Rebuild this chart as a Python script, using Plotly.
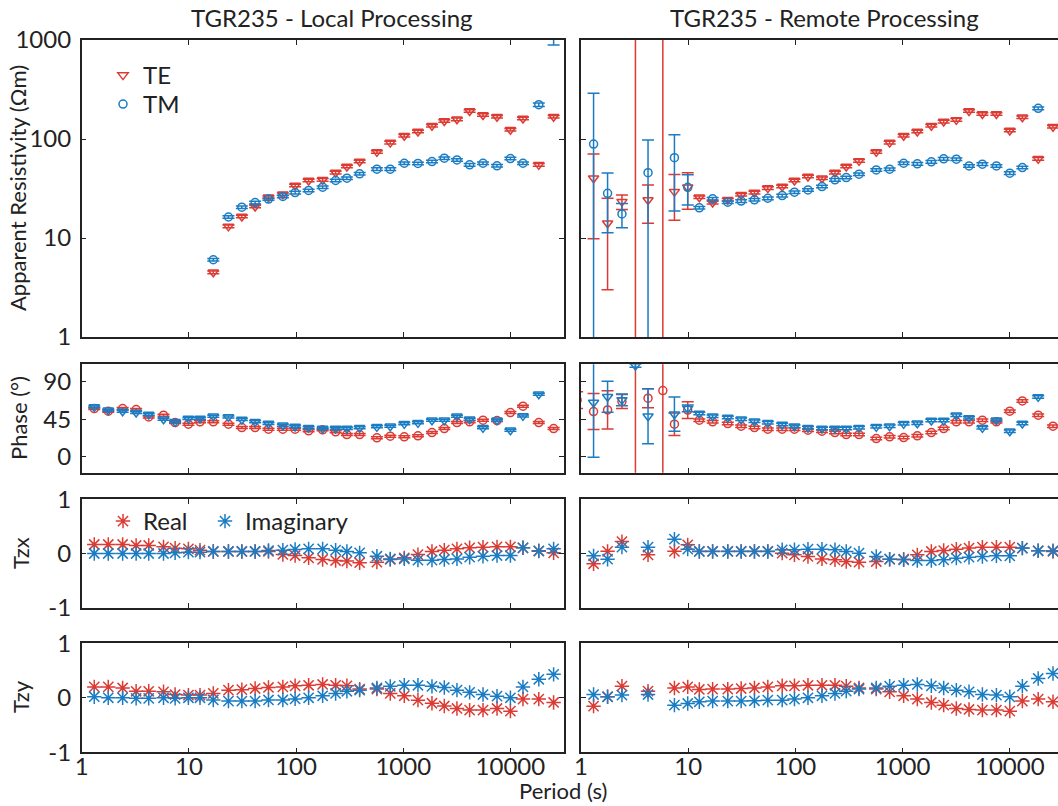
import plotly.graph_objects as go

# ---------------------------------------------------------------- data
# Periods (s); the first one lies just left of the 1 s axis limit.
periods = [0.92, 1.31, 1.77, 2.41, 3.22, 4.22, 5.8, 7.44, 9.9, 12.7, 16.9, 23.4,
           31.2, 41.5, 55.3, 75.3, 98, 131, 177, 234, 298, 392, 568, 757, 1023,
           1372, 1854, 2417, 3171, 4165, 5550, 7500, 10000, 13100, 18400, 25300]

N = None

# Local processing - apparent resistivity (ohm m) and errors
rho_te_local = [N, N, N, N, N, N, N, N, N, N,
                4.5, 13.1, 16.5, 20.8, 25.8, 27.7, 33.9, 38.1, 38.7, 45.8, 52.7, 59.2,
                74.1, 92, 108, 119, 136, 152, 158, 192, 175, 168, 124, 161, 54.8, 168]
rho_te_local_err = [N, N, N, N, N, N, N, N, N, N,
                    0.15, 0.4, 0.5, 0.6, 0.8, 0.8, 1.0, 1.1, 1.2, 1.4, 1.6, 1.8,
                    2.2, 2.8, 3.2, 3.6, 4.1, 4.6, 4.7, 5.8, 5.3, 5.0, 3.7, 4.8, 1.6, 5.0]
rho_tm_local = [N, N, N, N, N, N, N, N, N, N,
                6.03, 16.3, 20.5, 22.8, 24.7, 26.3, 28.8, 30.2, 32.6, 38.1, 40.2, 44.5,
                49.6, 49.6, 56.9, 56.6, 59.2, 64, 61.5, 54.8, 56.9, 53.6, 63.5, 56.9, 222, 1300]
rho_tm_local_err = [N, N, N, N, N, N, N, N, N, N,
                    0.18, 0.5, 0.6, 0.7, 0.7, 0.8, 0.9, 0.9, 1.0, 1.1, 1.2, 1.3,
                    1.5, 1.5, 1.7, 1.7, 1.8, 1.9, 1.8, 1.6, 1.7, 1.6, 1.9, 1.7, 9.0, 410]

# Local processing - phase (degrees)
phase_te_local = [N, 57.8, 54.6, 57.8, 56.6, 47.8, 49.8, 41, 39, 41.8, 41.8, 39, 35, 35,
                  33, 33, 33, 31, 32.2, 29.8, 26.6, 26.6, 22.6, 24.6, 23.8, 25, 29, 33.8,
                  41, 41.8, 43.8, 43.4, 53, 60.6, 41, 33.8]
phase_tm_local = [N, 59.8, 55.8, 54.6, 53, 50.6, 45, 41.8, 45.8, 45.8, 48.6, 47.8, 44.6,
                  41.8, 39.8, 37.8, 36.2, 34.6, 33.8, 33.8, 33.8, 34.6, 35.8, 36.6, 39.4,
                  40.6, 43.8, 43.8, 48.6, 45, 34.6, 43.8, 31.8, 49, 75, N]
phase_local_err = 1.2

# Local processing - tipper
tzx_re_local = [N, 0.166, 0.166, 0.166, 0.148, 0.148, 0.123, 0.098, 0.086, 0.062, 0.037,
                0.037, 0.037, 0.037, 0.037, -0.018, -0.037, -0.08, -0.11, -0.13, -0.14,
                -0.17, -0.16, -0.11, -0.08, -0.02, 0.037, 0.062, 0.086, 0.105, 0.117,
                0.123, 0.123, 0.105, 0.05, 0.012]
tzx_im_local = [N, 0.0, 0.0, 0.0, 0.0, 0.0, 0.0, 0.012, 0.025, 0.025, 0.037, 0.037, 0.037,
                0.037, 0.055, 0.062, 0.074, 0.086, 0.086, 0.062, 0.037, 0.012, -0.05, -0.1,
                -0.1, -0.123, -0.123, -0.11, -0.1, -0.068, -0.05, -0.037, -0.037, 0.105,
                0.043, 0.086]
tzy_re_local = [N, 0.20, 0.20, 0.18, 0.12, 0.12, 0.11, 0.06, 0.05, 0.05, 0.08, 0.14, 0.15,
                0.17, 0.19, 0.20, 0.22, 0.23, 0.245, 0.23, 0.22, 0.16, 0.16, 0.08, 0.037,
                -0.043, -0.10, -0.15, -0.196, -0.226, -0.226, -0.196, -0.245, -0.024,
                -0.024, -0.086]
tzy_im_local = [N, 0.02, 0.0, 0.0, -0.01, -0.01, 0.0, -0.01, 0.0, 0.0, -0.04, -0.06, -0.06,
                -0.06, -0.04, -0.04, -0.02, 0.0, 0.037, 0.08, 0.12, 0.14, 0.18, 0.21, 0.23,
                0.23, 0.21, 0.19, 0.14, 0.10, 0.06, 0.03, 0.0, 0.20, 0.34, 0.43]

# Remote processing - apparent resistivity (ohm m) and errors
rho_te_remote = [N, 40.1, 14.1, 23.3, 5000, 24.2, 5000, 29.4, 32.5, 25.8, 22.8, 24.3,
                 27.3, 28.8, 31.9, 33.1, 38.1, 41.8, 40.2, 45.8, 52.7, 60.1, 74.1, 92,
                 108, 119, 136, 150, 156, 192, 179, 179, 122, 166, 63, 133]
rho_te_remote_err = [N, 30.3, 11.1, 3.9, 4999.99, 10.1, 4999.99, 14.3, 13.0, 0.8, 0.7,
                     0.7, 0.8, 0.9, 1.0, 1.0, 1.1, 1.3, 1.2, 1.4, 1.6, 1.8, 2.2, 2.8, 3.2,
                     3.6, 4.1, 4.5, 4.7, 5.8, 5.4, 5.4, 3.7, 5.0, 1.9, 4.0]
rho_tm_remote = [N, 88.9, 28.3, 17.5, N, 45.7, N, 64.7, 32.5, 20.2, 24.9, 23, 23.6, 24.3,
                 25.2, 26.8, 29, 30.6, 33.1, 38.7, 40.8, 44.1, 48.7, 49.5, 56.9, 56.1,
                 58.8, 63, 62.5, 53.5, 55.7, 53.5, 45.2, 51.5, 204, N]
rho_tm_remote_err = [N, 201, 17, 4.8, N, 52, N, 46, 11, 0.6, 0.7, 0.7, 0.7, 0.7, 0.8,
                     0.8, 0.9, 0.9, 1.0, 1.2, 1.2, 1.3, 1.5, 1.5, 1.7, 1.7, 1.8, 1.9, 1.9,
                     1.6, 1.7, 1.6, 1.4, 1.5, 6.0, N]

# Remote processing - phase (degrees) and errors
phase_te_remote = [68, 54.2, 56.2, 66.2, 160, 70.2, 79.4, 39, 56, 43.8, 41.8, 39.8, 36.6,
                   35, 33, 33, 33, 31.8, 30.6, 29, 26.6, 26.6, 21.8, 23.8, 23, 25, 29,
                   33.8, 41.8, 41.8, 43.8, 41.8, 54.6, 67, 49.8, 36.6]
phase_te_remote_err = [10, 21.6, 23, 8.4, 300, 11.5, 200, 13.6, 10, 1.5, 1.5, 1.5, 1.5,
                       1.5, 1.5, 1.5, 1.5, 1.5, 1.5, 1.5, 1.5, 1.5, 1.5, 1.5, 1.5, 1.5,
                       1.5, 1.5, 1.5, 1.5, 1.5, 1.5, 1.5, 1.5, 1.5, 1.5]
phase_tm_remote = [N, 65, 72, 68.2, 109.4, 48.5, N, 51, 58, 51.8, 48.6, 47, 45, 42.6,
                   40.6, 38.6, 36.6, 34.6, 33.8, 33.8, 33.8, 34.6, 35.8, 36.6, 39.4, 40.2,
                   43.4, 43.4, 49.8, 46.6, 34.6, 43.8, 30.6, 39.8, 71.8, N]
phase_tm_remote_err = [N, 65.7, 18.5, 7, 2, 33, N, 20.6, 4, 1.5, 1.5, 1.5, 1.5, 1.5, 1.5,
                       1.5, 1.5, 1.5, 1.5, 1.5, 1.5, 1.5, 1.5, 1.5, 1.5, 1.5, 1.5, 1.5,
                       1.5, 1.5, 1.5, 1.5, 1.5, 1.5, 1.5, N]

# Remote processing - tipper
tzx_re_remote = [N, -0.19, 0.04, 0.22, N, -0.025, N, 0.04, 0.16, 0.04, 0.04, 0.04, 0.04,
                 0.04, 0.04, 0.006, -0.025, -0.055, -0.1, -0.117, -0.148, -0.16, -0.148,
                 -0.105, -0.105, -0.025, 0.037, 0.055, 0.08, 0.1, 0.117, 0.117, 0.117,
                 0.1, 0.05, 0.037]
tzx_im_remote = [N, -0.043, -0.105, 0.117, N, 0.117, N, 0.265, 0.08, 0.037, 0.037, 0.037,
                 0.037, 0.037, 0.037, 0.068, 0.068, 0.08, 0.08, 0.068, 0.037, 0.006,
                 -0.055, -0.105, -0.117, -0.13, -0.13, -0.117, -0.086, -0.068, -0.055,
                 -0.043, -0.043, 0.1, 0.05, 0.05]
tzy_re_remote = [N, -0.153, 0.02, 0.214, N, 0.122, N, 0.18, 0.2, 0.153, 0.16, 0.16, 0.17,
                 0.18, 0.2, 0.22, 0.22, 0.23, 0.23, 0.23, 0.214, 0.18, 0.16, 0.11, 0.037,
                 -0.024, -0.086, -0.135, -0.196, -0.214, -0.226, -0.226, -0.245, -0.06,
                 -0.024, -0.073]
tzy_im_remote = [N, 0.06, 0.018, 0.05, N, 0.06, N, -0.135, -0.104, -0.073, -0.06, -0.06,
                 -0.06, -0.055, -0.043, -0.043, -0.024, 0.0, 0.037, 0.08, 0.122, 0.16,
                 0.18, 0.214, 0.23, 0.245, 0.22, 0.18, 0.14, 0.11, 0.06, 0.05, 0.018,
                 0.214, 0.355, 0.447]

x_ticks = [1, 10, 100, 1000, 10000]
rho_ticks = [1, 10, 100, 1000]
phase_ticks = [0, 45, 90]
tipper_ticks = [-1, 0, 1]

# ---------------------------------------------------------------- style
RED = "#dc3b33"
BLUE = "#1a7cc2"
INK = "#222222"
FONT = "Lato"
W, H = 1058, 806


def px_x(v):
    return v / W


def px_y(v):
    return 1 - v / H


col_domains = [[px_x(81.7), px_x(564)], [px_x(581), 1.0]]
row_domains = [[px_y(337), px_y(40)], [px_y(472.7), px_y(364.3)],
               [px_y(607.7), px_y(499.3)], [px_y(752.3), px_y(643.3)]]

fig = go.Figure()


def axis_id(row, col):
    k = row * 2 + col + 1
    return ("x" if k == 1 else f"x{k}"), ("y" if k == 1 else f"y{k}")


def add(row, col, y, color, symbol, size, error_y=None, name=None, legend=None):
    xa, ya = axis_id(row, col)
    fig.add_trace(go.Scatter(
        x=periods, y=y, mode="markers", xaxis=xa, yaxis=ya,
        name=name or "", showlegend=legend is not None,
        legend=legend if legend else "legend",
        marker=dict(symbol=symbol, size=size, color=color,
                    line=dict(color=color, width=1.5)),
        error_y=error_y, hoverinfo="skip"))


def bars(values, color):
    return dict(type="data", array=values, symmetric=True, color=color,
                thickness=1.5, width=6)


def const_bars(value, color):
    return dict(type="constant", value=value, color=color, thickness=1.5, width=6)


STAR = 12

# Local processing column
add(0, 0, rho_te_local, RED, "triangle-down-open", 9, bars(rho_te_local_err, RED),
    name="TE", legend="legend")
add(0, 0, rho_tm_local, BLUE, "circle-open", 8, bars(rho_tm_local_err, BLUE),
    name="TM", legend="legend3")
add(1, 0, phase_te_local, RED, "circle-open", 8, const_bars(phase_local_err, RED))
add(1, 0, phase_tm_local, BLUE, "triangle-down-open", 9, const_bars(phase_local_err, BLUE))
add(2, 0, tzx_re_local, RED, "asterisk-open", STAR, name="Real", legend="legend2")
add(2, 0, tzx_im_local, BLUE, "asterisk-open", STAR, name="Imaginary", legend="legend4")
add(3, 0, tzy_re_local, RED, "asterisk-open", STAR)
add(3, 0, tzy_im_local, BLUE, "asterisk-open", STAR)

# Remote processing column
add(0, 1, rho_te_remote, RED, "triangle-down-open", 9, bars(rho_te_remote_err, RED))
add(0, 1, rho_tm_remote, BLUE, "circle-open", 8, bars(rho_tm_remote_err, BLUE))
add(1, 1, phase_te_remote, RED, "circle-open", 8, bars(phase_te_remote_err, RED))
add(1, 1, phase_tm_remote, BLUE, "triangle-down-open", 9, bars(phase_tm_remote_err, BLUE))
add(2, 1, tzx_re_remote, RED, "asterisk-open", STAR)
add(2, 1, tzx_im_remote, BLUE, "asterisk-open", STAR)
add(3, 1, tzy_re_remote, RED, "asterisk-open", STAR)
add(3, 1, tzy_im_remote, BLUE, "asterisk-open", STAR)

# ---------------------------------------------------------------- axes
tick_font = dict(family=FONT, size=24, color=INK)
base = dict(showline=True, linecolor=INK, linewidth=1.5, ticks="inside", ticklen=5,
            tickwidth=1.2, tickcolor=INK, showgrid=False, zeroline=False,
            tickfont=tick_font, automargin=False)

x_ranges = [[0, 4.5], [0, (W - 581) / 107.2]]
y_specs = [
    dict(type="log", range=[0, 3], tickvals=rho_ticks,
         ticktext=[str(v) for v in rho_ticks]),
    dict(type="linear", range=[-19.2, 110.9], tickvals=phase_ticks,
         ticktext=[str(v) for v in phase_ticks]),
    dict(type="linear", range=[-1, 1], tickvals=tipper_ticks,
         ticktext=[str(v) for v in tipper_ticks]),
    dict(type="linear", range=[-1, 1], tickvals=tipper_ticks,
         ticktext=[str(v) for v in tipper_ticks]),
]

layout_axes = {}
for row in range(4):
    for col in range(2):
        k = row * 2 + col + 1
        xa, ya = axis_id(row, col)
        layout_axes["xaxis" if k == 1 else f"xaxis{k}"] = dict(
            base, type="log", range=x_ranges[col], domain=col_domains[col],
            anchor=ya, mirror="ticks", tickvals=x_ticks,
            ticktext=[str(v) for v in x_ticks], showticklabels=row == 3,
            ticklabelstandoff=-8)
        layout_axes["yaxis" if k == 1 else f"yaxis{k}"] = dict(
            base, domain=row_domains[row], anchor=xa,
            mirror="ticks" if col == 0 else False,
            showticklabels=col == 0, ticklabelstandoff=4, **y_specs[row])

fig.update_layout(**layout_axes)

# ---------------------------------------------------------------- text
def label(text, x, y, size, angle=0):
    return dict(text=text, x=px_x(x), y=px_y(y), xref="paper", yref="paper",
                xanchor="center", yanchor="middle", showarrow=False,
                textangle=angle, font=dict(family=FONT, size=size, color=INK))


annotations = [
    label("TGR235 - Local Processing", 332, 17, 24),
    label("TGR235 - Remote Processing", 824, 17, 24),
    label("Apparent Resistivity (Ωm)", 18, 188, 22, -90),
    label("Phase (°)", 18, 418, 22, -90),
    label("Tzx", 20, 553, 22, -90),
    label("Tzy", 20, 697, 22, -90),
    label("Period (s)", 563, 790, 22),
]


def legend_box(x, y):
    return dict(x=px_x(x), y=px_y(y), xanchor="left", yanchor="top",
                bgcolor="rgba(0,0,0,0)", font=dict(family=FONT, size=24, color=INK),
                itemsizing="trace")


fig.update_layout(
    width=W, height=H,
    margin=dict(l=0, r=0, t=0, b=0, autoexpand=False),
    paper_bgcolor="white", plot_bgcolor="white",
    annotations=annotations,
    font=dict(family=FONT, color=INK),
    legend=legend_box(103, 53),
    legend3=legend_box(103, 82),
    legend2=legend_box(103, 499),
    legend4=legend_box(205, 499),
)

fig.write_html("out.html")
